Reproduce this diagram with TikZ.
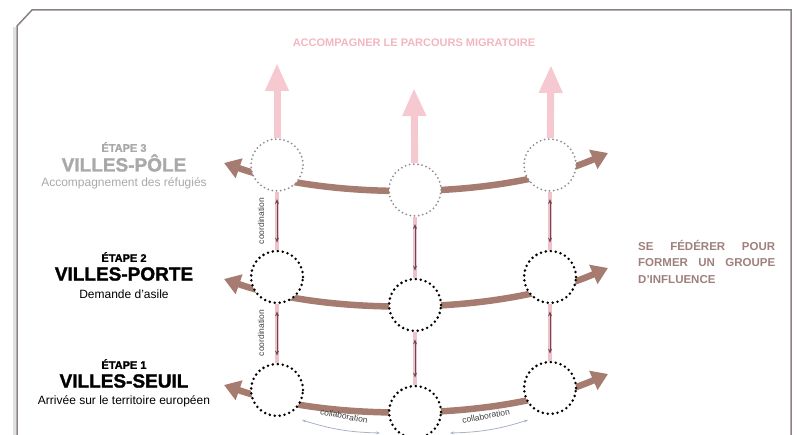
\documentclass[tikz,border=0pt]{standalone}
\usepackage{fontspec}
\setmainfont{Liberation Sans}
\newfontfamily\heavyfont{Liberation Sans}[BoldFeatures={FakeBold=1.5}]
\usetikzlibrary{arrows.meta,positioning}
\definecolor{bandbrown}{HTML}{A67B70}
\definecolor{pinkup}{HTML}{F5C9CF}
\definecolor{pinktitle}{HTML}{F2B6C0}
\definecolor{shaftpink}{HTML}{EFC2CA}
\definecolor{linkdark}{HTML}{6E4757}
\definecolor{gray3}{HTML}{A9A9A9}
\definecolor{dotgray}{HTML}{8C8C8C}
\definecolor{fedbrown}{HTML}{9E807D}
\definecolor{framegray}{HTML}{8A8280}
\definecolor{collabblue}{HTML}{A8B2C6}
\tikzset{
  city/.style={
    circle, minimum size=52pt, inner sep=0pt, fill=white,
    draw=#1, line width=2.8pt, dash pattern=on 0pt off 5pt, line cap=round
  },
  city/.default=black,
  farcity/.style={
    circle, minimum size=52pt, inner sep=0pt, fill=white,
    draw=dotgray, line width=2pt, dash pattern=on 0pt off 4.2pt, line cap=round
  },
  band/.style={
    draw=bandbrown, line width=6.5pt,
    arrows={Triangle[length=16pt,width=20pt]-Triangle[length=16pt,width=20pt]}
  },
  uparrow/.style={
    draw=pinkup, line width=7pt, arrows={-Triangle[length=28pt,width=22pt]}
  },
  linkshaft/.style={draw=shaftpink, line width=3.5pt},
  linkarrow/.style={
    draw=linkdark, line width=0.7pt, shorten >=7pt, shorten <=7pt,
    arrows={Stealth[length=5pt,width=4pt]-Stealth[length=5pt,width=4pt]}
  },
  collabarrow/.style={
    draw=collabblue, line width=0.8pt,
    arrows={Stealth[length=4pt,width=3pt]-Stealth[length=4pt,width=3pt]}
  },
  steptag/.style={font=\fontsize{11}{12}\selectfont\heavyfont\bfseries, inner sep=0pt},
  steptitle/.style={font=\fontsize{19}{20}\selectfont\heavyfont\bfseries, inner sep=0pt},
  stepsub/.style={font=\fontsize{12}{13}\selectfont, inner sep=0pt},
  smalltext/.style={font=\fontsize{8.5}{9}\selectfont, inner sep=0pt, color=#1},
  smalltext/.default=black!75,
}

\begin{document}
\begin{tikzpicture}[x=1pt, y=-1pt]
  \useasboundingbox (0,0) rectangle (797,435);
  % frame with cut corner
  \draw[black!12, line width=2.5pt] (14.5,440) -- (14.5,27);
  \draw[framegray, line width=1.5pt] (17,440) -- (17,26) -- (32,10) -- (791,10) -- (791,440);

  % band ends
  \coordinate (w3) at (224,163);
  \coordinate (e3) at (608,153);
  \coordinate (w2) at (224,279);
  \coordinate (e2) at (608,268);
  \coordinate (w1) at (224,385);
  \coordinate (e1) at (608,374);
  % tips of the upward arrows
  \coordinate (tl) at (277,63);
  \coordinate (tm) at (414,88);
  \coordinate (tr) at (551,65);

  % brown bands
  \draw[band] (w3) .. controls +(106,37) and +(-108,47) .. (e3);
  \draw[band] (w2) .. controls +(106,37) and +(-108,47) .. (e2);
  \draw[band] (w1) .. controls +(106,37) and +(-108,47) .. (e1);

  % cities
  \node[farcity] (l3) at (277,165) {};
  \node[farcity] (m3) at (415,190) {};
  \node[farcity] (r3) at (550,165) {};
  \node[city] (l2) at (277,277) {};
  \node[city] (m2) at (415,305) {};
  \node[city] (r2) at (550,277) {};
  \node[city] (l1) at (277,390) {};
  \node[city] (m1) at (415,412) {};
  \node[city] (r1) at (550,388) {};

  % upward pink arrows
  \draw[uparrow] (l3) -- (tl);
  \draw[uparrow] (m3) -- (tm);
  \draw[uparrow] (r3) -- (tr);

  % links between stages
  \foreach \col in {l,m,r}{
    \draw[linkshaft] (\col3) -- (\col2);
    \draw[linkarrow] (\col3) -- (\col2);
    \draw[linkshaft] (\col2) -- (\col1);
    \draw[linkarrow] (\col2) -- (\col1);
  }
  \node[smalltext, rotate=90] (coord1) at (261,221) {coordination};
  \node[smalltext, rotate=90] (coord2) at (261,333) {coordination};

  % collaboration
  \coordinate (ca1) at (302,420);
  \coordinate (ca2) at (380,433);
  \coordinate (cb1) at (450,433);
  \coordinate (cb2) at (528,420);
  \draw[collabarrow] (ca1) to[bend right=8] (ca2);
  \draw[collabarrow] (cb1) to[bend right=8] (cb2);
  \node[smalltext, rotate=-11] (collab1) at (344,416) {collaboration};
  \node[smalltext, rotate=11] (collab2) at (486,416) {collaboration};

  % stages
  \node[steptag, gray3] (tag3) at (124,147) {ÉTAPE 3};
  \node[steptitle, gray3] (title3) at (124,163) {VILLES-PÔLE};
  \node[stepsub, gray3] (sub3) at (124,183) {Accompagnement des réfugiés};
  \node[steptag] (tag2) at (124,257) {ÉTAPE 2};
  \node[steptitle] (title2) at (124,274) {VILLES-PORTE};
  \node[stepsub] (sub2) at (124,294) {Demande d'asile};
  \node[steptag] (tag1) at (124,364) {ÉTAPE 1};
  \node[steptitle] (title1) at (124,381) {VILLES-SEUIL};
  \node[stepsub] (sub1) at (124,401) {Arrivée sur le territoire européen};

  % goals
  \node[font=\fontsize{11}{12}\selectfont\bfseries, color=pinktitle, inner sep=0pt]
    (goal) at (414,43) {ACCOMPAGNER LE PARCOURS MIGRATOIRE};
  \node[font=\fontsize{11.5}{16.5}\selectfont\bfseries, color=fedbrown, inner sep=0pt,
    align=left, anchor=north west] (fed) at (638,240)
    {\makebox[137pt][s]{SE FÉDÉRER POUR}\\\makebox[137pt][s]{FORMER UN GROUPE}\\D'INFLUENCE};
\end{tikzpicture}
\end{document}
